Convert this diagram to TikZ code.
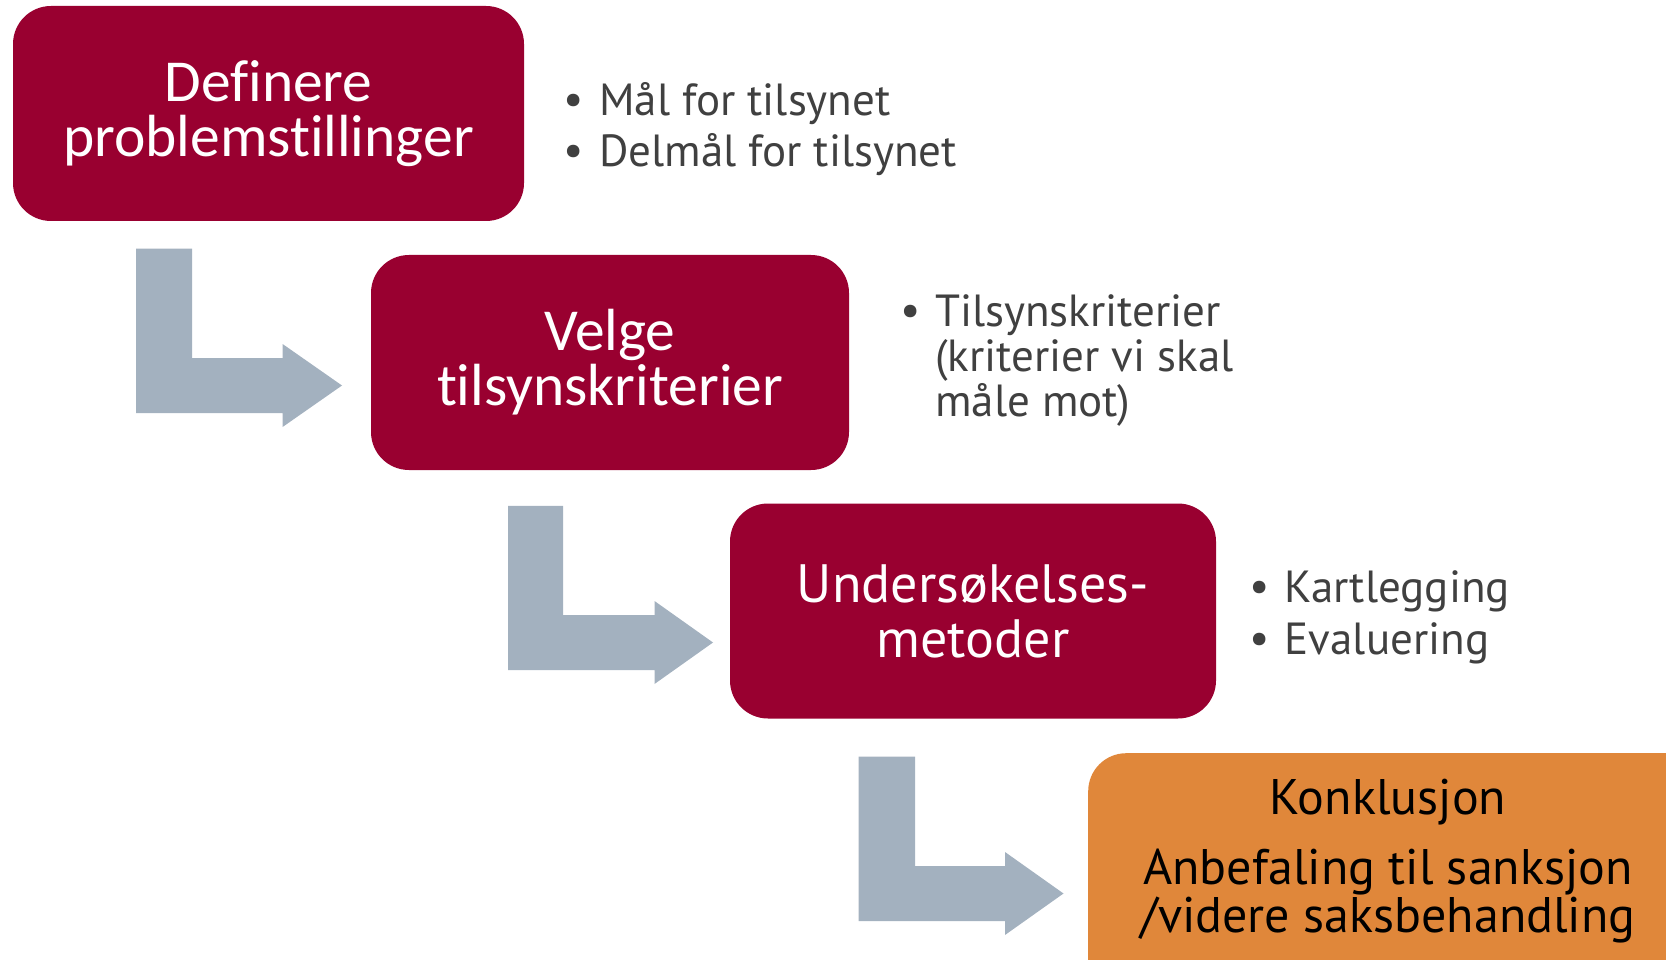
\documentclass[tikz,border=0pt]{standalone}
\usepackage{fontspec}
\setmainfont{Carlito}[Ligatures={NoCommon}]
\newfontfamily\ptsans{PT Sans}
\definecolor{crimson}{HTML}{990030}
\definecolor{arrowgray}{HTML}{A3B1BF}
\definecolor{orangebox}{HTML}{E0873A}
\definecolor{bullettext}{HTML}{404040}
\begin{document}
\begin{tikzpicture}[x=1pt,y=-1pt,
  stepbox/.style={fill=crimson, rounded corners=38pt, text=white, align=center, inner sep=0pt,
    minimum width=#1, minimum height=215pt},
  bendarrow/.style={fill=arrowgray},
  bulletitem/.style={text=bullettext, font=\ptsans\fontsize{45}{45}\selectfont, align=left, inner sep=0pt, anchor=west},
  bulletdot/.style={text=bullettext, font=\ptsans\fontsize{45}{45}\selectfont, inner sep=0pt}
]
\useasboundingbox (0,0) rectangle (1666,960);
\clip (0,0) rectangle (1666,960);

% boxes
\node[stepbox=511pt, font=\fontsize{59.5}{55}\selectfont] (b1) at (268.5,113.5) {Definere\\problemstillinger};
\node[stepbox=478pt, font=\fontsize{59.5}{55}\selectfont] (b2) at (610,362.5) {Velge\\tilsynskriterier};
\node[stepbox=486pt, font=\ptsans\fontsize{54}{55}\selectfont] (b3) at (973,611) {Undersøkelses-\\metoder};
\node[fill=orangebox, rounded corners=38pt, minimum width=620pt, minimum height=260pt, anchor=north west, inner sep=0pt] (b4) at (1088,753) {};
\node[text=black, align=center, inner sep=0pt, font=\ptsans\fontsize{50}{48}\selectfont] (b4t) at (1388,861) {Konklusjon\\[22pt]Anbefaling til sanksjon\\/videre saksbehandling};

% bent arrows
\fill[bendarrow] (136,248.6) -- (192,248.6) -- (192,358) -- (282.6,358) -- (282.6,344) -- (342,385.5) -- (282.6,427) -- (282.6,413) -- (136,413) -- cycle;
\fill[bendarrow] (508,505.8) -- (563,505.8) -- (563,615) -- (654.5,615) -- (654.5,601) -- (713,642.5) -- (654.5,684) -- (654.5,670) -- (508,670) -- cycle;
\fill[bendarrow] (858.5,756.5) -- (915,756.5) -- (915,866) -- (1005,866) -- (1005,852) -- (1063.5,893.5) -- (1005,935) -- (1005,921) -- (858.5,921) -- cycle;

% bullet lists
\node[bulletdot] (d1) at (574,104) {•};
\node[bulletitem] (t1) at (599,104) {Mål for tilsynet};
\node[bulletdot] (d2) at (574,155) {•};
\node[bulletitem] (t2) at (599,155) {Delmål for tilsynet};
\node[bulletdot] (d3) at (910.6,315) {•};
\node[bulletitem] (t3) at (935,361) {Tilsynskriterier\\(kriterier vi skal\\måle mot)};
\node[bulletdot] (d4) at (1260,591.6) {•};
\node[bulletitem] (t4) at (1284.6,591.6) {Kartlegging};
\node[bulletdot] (d5) at (1260,643.7) {•};
\node[bulletitem] (t5) at (1284.6,643.7) {Evaluering};
\end{tikzpicture}
\end{document}
